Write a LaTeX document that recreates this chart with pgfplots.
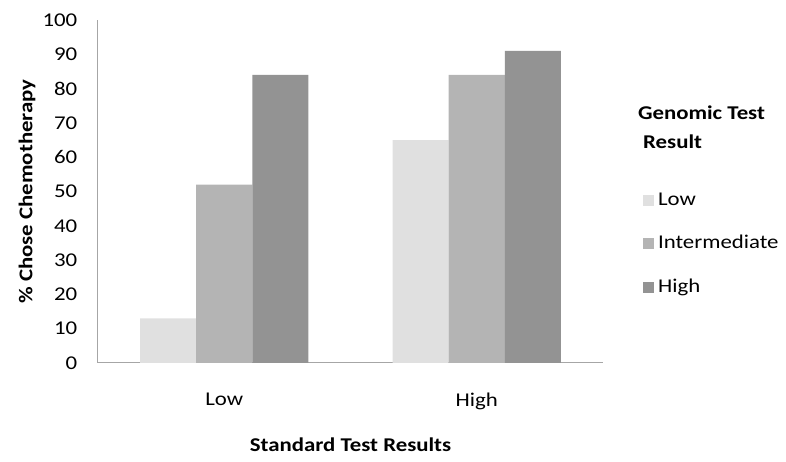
\documentclass[border=0pt]{standalone}
\usepackage{pgfplots}
\pgfplotsset{compat=1.18}
\usepackage{fontspec}
\setmainfont{Carlito}[FakeStretch=1.17]

\definecolor{barlow}{HTML}{E0E0E0}
\definecolor{barmid}{HTML}{B4B4B4}
\definecolor{barhigh}{HTML}{939393}
\definecolor{axgray}{HTML}{A6A6A6}

\newcommand{\lbl}{\fontsize{19.5}{23}\selectfont}

\begin{document}
\lbl
\begin{tikzpicture}
\useasboundingbox (-98pt,-99pt) rectangle (688pt,363pt);
\begin{axis}[
    at={(0,0)}, anchor=south west,
    scale only axis,
    width=505pt, height=343pt,
    ybar, bar width=0.222,
    xmin=-0.5, xmax=1.5,
    ymin=0, ymax=100,
    ytick={0,10,...,100},
    xtick=data,
    xticklabels={Low, High},
    axis x line*=bottom,
    axis y line*=left,
    axis line style={axgray, line width=1pt, -},
    major tick length=0pt,
    /pgf/number format/assume math mode=true,
    tick label style={font=\lbl, black},
    yticklabel shift=14pt,
    xticklabel shift=23pt,
    xlabel={\textbf{Standard Test Results}},
    ylabel={\textbf{\% Chose Chemotherapy}},
    x label style={at={(axis description cs:0.5,0)}, anchor=center, yshift=-82pt, font=\lbl},
    y label style={at={([xshift=-71pt]axis description cs:0,0.5)}, anchor=center, font=\lbl},
    legend style={at={(rel axis cs:1.073,0.505)}, anchor=north west, draw=none, fill=none,
        font=\lbl, row sep=25pt, column sep=3pt,
        nodes={inner sep=1pt}},
    legend cell align=left,
    legend image code/.code={\fill[#1, draw=none] (0pt,-5.5pt) rectangle (11pt,5.5pt);},
    clip=false,
]
\addplot[fill=barlow, draw=none, bar shift=-0.222] coordinates {(0,13) (1,65)};
\addplot[fill=barmid, draw=none, bar shift=0] coordinates {(0,52) (1,84)};
\addplot[fill=barhigh, draw=none, bar shift=0.222] coordinates {(0,84) (1,91)};
\legend{Low, Intermediate, High}
\node[anchor=north west, align=left, font=\bfseries\fontsize{19.5}{29}\selectfont, inner sep=0pt]
    at (rel axis cs:1.069,0.75) {Genomic Test\\\ Result};
\end{axis}
\end{tikzpicture}
\end{document}
